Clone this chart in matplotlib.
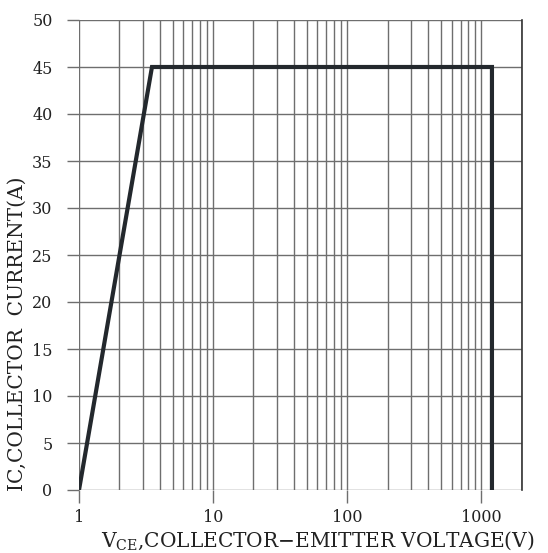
import matplotlib
matplotlib.use("Agg")
import matplotlib.pyplot as plt
import numpy as np

# data
vce = [1.0, 3.5, 1200.0, 1200.0]
ic = [0.0, 45.0, 45.0, 0.0]
y_ticks = [0, 5, 10, 15, 20, 25, 30, 35, 40, 45, 50]
x_ticks = [1, 10, 100, 1000]
x_tick_labels = ["1", "10", "100", "1000"]

fig = plt.figure(figsize=(5.48, 5.53), dpi=100)
ax = fig.add_axes([79/548, 1-490/553, (521.7-79)/548, (490-20)/553])
ax.set_xscale('log')
ax.set_xlim(1, 2000)
ax.set_ylim(0, 50)

grid_col = '#6e6e6e'
# vertical grid lines
minor = [m * 10**d for d in range(0, 4) for m in range(1, 10) if m * 10**d <= 2000]
minor.append(2000)
for xv in minor:
    ax.axvline(xv, color=grid_col, lw=1.0, zorder=1)
for yv in y_ticks:
    ax.axhline(yv, color=grid_col, lw=1.0, zorder=1)

ax.plot(vce, ic, color='#23282d', lw=3.0, solid_joinstyle='miter', zorder=3)

for s in ['left', 'bottom', 'top']:
    ax.spines[s].set_visible(False)
ax.spines['right'].set_color('#333333')
ax.spines['right'].set_linewidth(1.2)

ax.set_yticks(y_ticks)
ax.set_yticklabels([str(v) for v in y_ticks])
ax.set_xticks(x_ticks)
ax.set_xticklabels(x_tick_labels)
ax.xaxis.set_minor_locator(matplotlib.ticker.NullLocator())
ax.tick_params(axis='both', direction='out', length=9, width=1.0, color=grid_col,
               labelsize=11.5, labelcolor='#222222')
ax.tick_params(axis='y', pad=10)
ax.tick_params(axis='x', pad=5)
for lab in ax.get_xticklabels() + ax.get_yticklabels():
    lab.set_family('DejaVu Serif')

fig.text(318/548, 1-541/553, r"V$_{\mathregular{CE}}$,COLLECTOR$-$EMITTER VOLTAGE(V)",
         ha='center', va='center', fontsize=14.5, family='DejaVu Serif', color='#222222')
fig.text(17/548, 1-334/553, "IC,COLLECTOR  CURRENT(A)", rotation=90,
         ha='center', va='center', fontsize=14.5, family='DejaVu Serif', color='#222222')

fig.savefig('out.png', dpi=100)
